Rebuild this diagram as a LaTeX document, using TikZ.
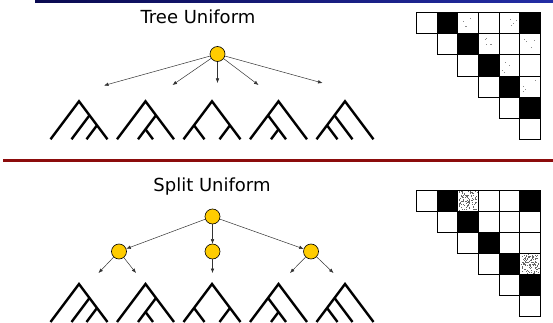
\documentclass[tikz,border=0pt]{standalone}
\usepackage{fontspec}
\setmainfont{DejaVu Sans}
\usetikzlibrary{arrows.meta}

\definecolor{knotfill}{RGB}{255,204,0}
\definecolor{barblue}{RGB}{35,45,165}
\definecolor{bardark}{RGB}{10,10,80}
\definecolor{rulered}{RGB}{140,12,12}

\begin{document}
\begin{tikzpicture}[x=1pt, y=-1pt,
    knot/.style={circle, draw=black, line width=0.6pt, fill=knotfill,
      minimum size=15pt, inner sep=0pt},
    arr/.style={line width=0.5pt, draw=black!80, -{Latex[length=4.5pt, width=3.6pt]}},
    tree/.style={line width=2.4pt, line join=miter},
    cell/.style={draw=black, line width=0.8pt},
    title/.style={font=\fontsize{18}{21}\selectfont}]
  \useasboundingbox (0,0) rectangle (553,323);

  % Bars:
  \shade[left color=bardark, right color=barblue] (35,0) rectangle (553,3);
  \fill[rulered] (3,159) rectangle (553,162);

  % Titles:
  \node[title] (ttree) at (198,17) {Tree Uniform};
  \node[title] (tsplit) at (212,187) {Split Uniform};

  % Tree uniform: one choice among all shapes
  \node[knot] (root) at (217.5,54) {};
  \coordinate (t1) at (104,85.5);
  \coordinate (t2) at (172.5,85);
  \coordinate (t3) at (217.5,83);
  \coordinate (t4) at (258.5,85);
  \coordinate (t5) at (322.5,83);
  \foreach \t in {t1,t2,t3,t4,t5}
    \draw[arr] (root) -- (\t);

  % Split uniform: choose the split first
  \node[knot] (sroot) at (212.5,216.5) {};
  \node[knot] (sa) at (119,251.5) {};
  \node[knot] (sb) at (212.5,251.5) {};
  \node[knot] (sc) at (311,251.5) {};
  \draw[arr] (sroot) -- (sa);
  \draw[arr] (sroot) -- (sb);
  \draw[arr] (sroot) -- (sc);
  \coordinate (sa1) at (98.5,273);
  \coordinate (sa2) at (136,273);
  \coordinate (sb1) at (212.5,273);
  \coordinate (sc1) at (290,273);
  \coordinate (sc2) at (333.5,273);
  \draw[arr] (sa) -- (sa1);
  \draw[arr] (sa) -- (sa2);
  \draw[arr] (sb) -- (sb1);
  \draw[arr] (sc) -- (sc1);
  \draw[arr] (sc) -- (sc2);

  % The five shapes, top and bottom (base line at y):
  \foreach \y in {139.3,322} {
    \begin{scope}[shift={(50.5,\y)}]
      \draw[tree] (0,0) -- (28.5,-38) -- (57,0);
      \draw[tree] (39,-24) -- (21,0);
      \draw[tree] (46.5,-14) -- (36,0);
    \end{scope}
    \begin{scope}[shift={(117,\y)}]
      \draw[tree] (0,0) -- (28.5,-38) -- (57,0);
      \draw[tree] (39,-24) -- (21,0);
      \draw[tree] (28.5,-10) -- (36,0);
    \end{scope}
    \begin{scope}[shift={(183.5,\y)}]
      \draw[tree] (0,0) -- (28.5,-38) -- (57,0);
      \draw[tree] (10.5,-14) -- (21,0);
      \draw[tree] (46.5,-14) -- (36,0);
    \end{scope}
    \begin{scope}[shift={(250,\y)}]
      \draw[tree] (0,0) -- (28.5,-38) -- (57,0);
      \draw[tree] (18,-24) -- (36,0);
      \draw[tree] (28.5,-10) -- (21,0);
    \end{scope}
    \begin{scope}[shift={(316.5,\y)}]
      \draw[tree] (0,0) -- (28.5,-38) -- (57,0);
      \draw[tree] (18,-24) -- (36,0);
      \draw[tree] (10.5,-14) -- (21,0);
    \end{scope}
  }

  % Matrices:
  \pgfmathsetseed{11}
  \begin{scope}[shift={(416.5,12.5)}, x=20.6pt, y=-21.2pt]
    \foreach \r in {0,...,5}
      \foreach \c in {\r,...,5}
        \draw[cell] (\c,\r) rectangle +(1,1);
    \foreach \c/\r in {1/0,5/0,2/1,3/2,4/3,5/4}
      \fill[black] (\c,\r) rectangle +(1,1);
    % sparse dots
    \foreach \c/\r in {2/0,4/0,3/1,5/1,4/2,5/3}
      \foreach \k in {1,...,4}
        \fill[black!45] ({\c+0.15+0.7*rnd},{\r+0.15+0.7*rnd}) rectangle +(0.05,0.05);
  \end{scope}
  \begin{scope}[shift={(416.5,190)}, x=20.6pt, y=-21.1pt]
    \foreach \r in {0,...,5}
      \foreach \c in {\r,...,5}
        \draw[cell] (\c,\r) rectangle +(1,1);
    \foreach \c/\r in {1/0,5/0,2/1,3/2,4/3,5/4}
      \fill[black] (\c,\r) rectangle +(1,1);
    % dense dots
    \foreach \c/\r in {2/0,5/3}
      \foreach \k in {1,...,110}
        \fill[black!60] ({\c+0.05+0.88*rnd},{\r+0.05+0.88*rnd}) rectangle +(0.05,0.05);
  \end{scope}
\end{tikzpicture}
\end{document}
